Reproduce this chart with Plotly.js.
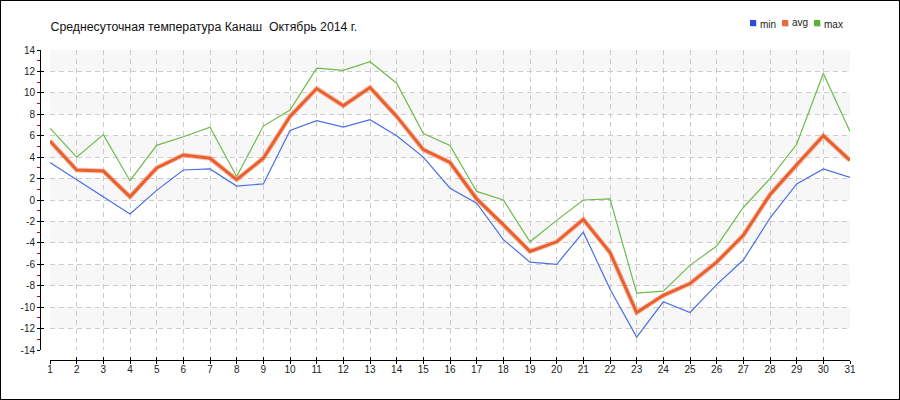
<!DOCTYPE html>
<html>
<head>
<meta charset="utf-8">
<script src="https://cdn.plot.ly/plotly-3.0.1.min.js"></script>
<style>
html,body{margin:0;padding:0;background:#fff;}
#chart{width:900px;height:400px;}
</style>
</head>
<body>
<div id="chart"></div>
<script>
// ---- data ----
const days = [1,2,3,4,5,6,7,8,9,10,11,12,13,14,15,16,17,18,19,20,21,22,23,24,25,26,27,28,29,30,31];
const tMin = [3.5,1.9,0.3,-1.3,0.9,2.8,2.9,1.3,1.5,6.5,7.4,6.8,7.5,6.0,4.0,1.1,-0.3,-3.7,-5.8,-6.0,-3.0,-8.3,-12.8,-9.5,-10.5,-7.9,-5.6,-1.7,1.5,2.9,2.1];
const tAvg = [5.5,2.8,2.7,0.3,3.0,4.2,3.9,1.9,3.9,7.8,10.4,8.8,10.5,7.8,4.7,3.5,0.1,-2.3,-4.8,-3.9,-1.8,-4.9,-10.5,-8.9,-7.8,-5.8,-3.3,0.5,3.3,6.0,3.7];
const tMax = [6.7,4.0,6.1,1.8,5.1,5.9,6.8,2.2,6.9,8.4,12.3,12.1,12.9,10.9,6.2,5.1,0.8,0.0,-3.9,-1.9,0.0,0.1,-8.7,-8.5,-6.1,-4.3,-0.7,2.0,5.2,11.8,6.4];
const seriesNames = ['min','avg','max'];
const yTicks = [-14,-12,-10,-8,-6,-4,-2,0,2,4,6,8,10,12,14];
const titleText = 'Среднесуточная температура Канаш\u00a0 Октябрь 2014 г.';

// ---- styles ----
const colMin = '#4a6fe3', colAvg = '#e8602c', colMax = '#6dbb4a';
const legendCols = ['#2a4ae0', '#ee6a32', '#55b530'];
const W = 900, H = 400;
const plotL = 50, plotR = 850, plotT = 50, plotB = 350;
const xDom = [plotL / W, plotR / W];
const yDom = [1 - plotB / H, 1 - plotT / H];
const fam = 'Liberation Sans, Arial, sans-serif';
const tickFont = {family: fam, size: 10, color: '#222'};

// alternating background bands derived from the y ticks
const shapes = [];
for (let i = 0; i < yTicks.length - 1; i++) {
  const lo = yTicks[i], hi = yTicks[i + 1];
  if (((lo % 4) + 4) % 4 === 0) {
    shapes.push({type: 'rect', xref: 'x domain', yref: 'y', x0: 0, x1: 1, y0: lo, y1: hi,
      fillcolor: '#f7f7f7', line: {width: 0}, layer: 'below'});
  }
}
// legend (squares + labels)
const annotations = [];
const legX0 = 750, legStep = 32, legY = 23;
seriesNames.forEach((nm, i) => {
  const cx = legX0 + i * legStep;
  shapes.push({type: 'rect', xref: 'paper', yref: 'paper',
    x0: (cx + 1) / W, x1: (cx + 7) / W, y0: 1 - (legY + 4) / H, y1: 1 - (legY - 2) / H,
    fillcolor: '#d8d8d8', line: {width: 0}, layer: 'above'});
  shapes.push({type: 'rect', xref: 'paper', yref: 'paper',
    x0: cx / W, x1: (cx + 6) / W, y0: 1 - (legY + 3) / H, y1: 1 - (legY - 3) / H,
    fillcolor: legendCols[i], line: {width: 0}, layer: 'above'});
  annotations.push({text: nm, xref: 'paper', yref: 'paper', x: (cx + 8) / W, xanchor: 'left',
    y: 1 - (legY + (i === 1 ? -1 : 1)) / H, yanchor: 'middle', showarrow: false,
    font: {family: fam, size: 10, color: '#222'}});
});
// outer frame
shapes.push({type: 'rect', xref: 'paper', yref: 'paper', x0: 0, x1: 1, y0: 0, y1: 1,
  line: {color: '#000', width: 2}, fillcolor: 'rgba(0,0,0,0)', layer: 'above'});

const traces = [
  {x: days, y: tMin, name: seriesNames[0], mode: 'lines', line: {color: colMin, width: 1.2}, hoverinfo: 'skip'},
  {x: days, y: tMax, name: seriesNames[2], mode: 'lines', line: {color: colMax, width: 1.2}, hoverinfo: 'skip'},
  {x: days, y: tAvg, mode: 'lines', line: {color: 'rgba(240,150,120,0.55)', width: 5}, showlegend: false, hoverinfo: 'skip'},
  {x: days, y: tAvg, name: seriesNames[1], mode: 'lines', line: {color: colAvg, width: 3}, hoverinfo: 'skip'},
  // helper trace for the overlay axes (inner tick halves)
  {x: days, y: tAvg, mode: 'none', xaxis: 'x2', yaxis: 'y2', showlegend: false, hoverinfo: 'skip'}
];

const layout = {
  width: W, height: H,
  margin: {l: 0, r: 0, t: 0, b: 0},
  paper_bgcolor: '#fff', plot_bgcolor: 'rgba(0,0,0,0)',
  showlegend: false,
  title: {text: titleText, x: plotL / W, xanchor: 'left', xref: 'container', y: 1 - 27 / H, yanchor: 'middle',
    yref: 'container', pad: {l: 0.5, r: 0, t: 0, b: 0}, font: {family: fam, size: 12.3, color: '#111'}},
  xaxis: {domain: xDom, range: [1, 31], anchor: 'free', position: 40 / H,
    tickmode: 'array', tickvals: days, ticktext: days.map(String),
    ticks: 'outside', ticklen: 3, tickcolor: '#000', tickwidth: 1, ticklabelstandoff: -3,
    showline: true, linecolor: '#000', linewidth: 1,
    showgrid: true, gridcolor: '#cccccc', gridwidth: 1, griddash: '5px,4px',
    zeroline: false, tickfont: tickFont, fixedrange: true},
  yaxis: {domain: yDom, range: [-14, 14], anchor: 'free', position: 40 / W,
    tickmode: 'array', tickvals: yTicks, ticktext: yTicks.map(String),
    ticks: 'outside', ticklen: 3, tickcolor: '#000', tickwidth: 1,
    minor: {dtick: 1, tick0: 1, ticks: 'outside', ticklen: 3, tickcolor: '#e00000', tickwidth: 1, showgrid: false},
    showline: true, linecolor: '#000', linewidth: 1,
    showgrid: true, gridcolor: '#cccccc', gridwidth: 1, griddash: '5px,4px',
    zeroline: false, tickfont: tickFont, fixedrange: true},
  xaxis2: {domain: xDom, range: [1, 31], overlaying: 'x', anchor: 'free', position: 40 / H,
    tickmode: 'array', tickvals: days, ticks: 'inside', ticklen: 3, tickcolor: '#000',
    showticklabels: false, showgrid: false, zeroline: false, showline: false, fixedrange: true},
  yaxis2: {domain: yDom, range: [-14, 14], overlaying: 'y', anchor: 'free', position: 40 / W,
    tickmode: 'array', tickvals: yTicks, ticks: 'inside', ticklen: 3, tickcolor: '#000',
    showticklabels: false, showgrid: false, zeroline: false, showline: false, fixedrange: true},
  shapes: shapes,
  annotations: annotations
};

Plotly.newPlot('chart', traces, layout, {staticPlot: true, displayModeBar: false});
</script>
</body>
</html>
